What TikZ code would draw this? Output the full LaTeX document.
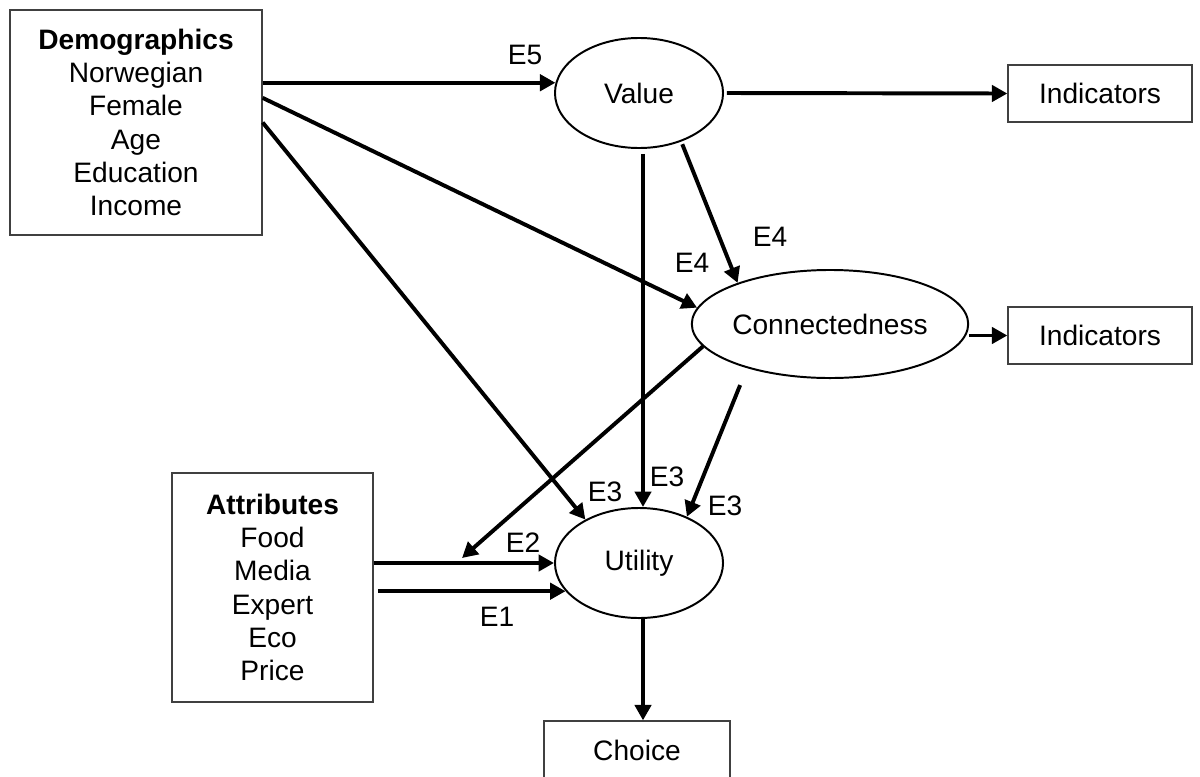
\documentclass[tikz,border=0pt]{standalone}
\usepackage{fontspec}
\setmainfont{Liberation Sans}
\usetikzlibrary{shapes.geometric, arrows.meta}

\begin{document}
\begin{tikzpicture}[x=0.025cm, y=-0.025cm,
    every node/.style={font=\fontsize{20}{23.6}\selectfont, inner sep=0pt},
    latent/.style={ellipse, draw, line width=1.4pt},
    obsbox/.style={rectangle, draw=black!75, line width=0.9pt, align=center},
    arr/.style={-{Triangle[length=11pt, width=11.5pt]}, line width=2.8pt}]
    \useasboundingbox (0,0) rectangle (1200,776);

    % 方框
    \node[obsbox, minimum width=6.3cm, minimum height=5.625cm] (demo) at (136,122.5)
        {\textbf{Demographics}\\Norwegian\\Female\\Age\\Education\\Income};
    \node[obsbox, minimum width=5.025cm, minimum height=5.725cm] (attr) at (272.5,587.5)
        {\textbf{Attributes}\\Food\\Media\\Expert\\Eco\\Price};
    \node[obsbox, minimum width=4.6cm, minimum height=1.425cm] (ind1) at (1100,93.5) {Indicators};
    \node[obsbox, minimum width=4.6cm, minimum height=1.425cm] (ind2) at (1100,335.5) {Indicators};
    \node[obsbox, minimum width=4.65cm, minimum height=1.45cm] (choice) at (637,750) {Choice};

    % 椭圆
    \node[latent, minimum width=4.2cm, minimum height=2.75cm] (value) at (639,93) {Value};
    \node[latent, minimum width=6.75cm, minimum height=2.7cm] (conn) at (830,324) {Connectedness};
    \node[latent, minimum width=4.2cm, minimum height=2.75cm] (util) at (639,563) {Utility};
    \coordinate (e2mid) at (462,558);

    % 箭头
    \draw[arr] (demo.east |- value.173) -- (value.173);
    \draw[arr, shorten <=2pt] (value.east) -- (ind1.west);
    \draw[arr] (demo.11) -- (conn.173);
    \draw[arr] (demo.east) -- (util.141);
    \draw[arr, shorten <=3.5pt] ([xshift=0.1cm]value.south) -- ([xshift=0.1cm]util.north);
    \draw[arr, shorten <=2pt] (value.-49) -- (conn.156);
    \draw[arr] (conn.east |- ind2.west) -- (ind2.west);
    \draw[arr] (conn.190) -- (e2mid);
    \draw[arr, shorten <=13pt] (conn.208) -- (util.44);
    \draw[arr] (attr.east |- util.west) -- (util.west);
    \draw[arr, shorten <=3pt] (attr.east |- util.201) -- (util.201);
    \draw[arr] ([xshift=0.1cm]util.south) -- ([xshift=0.1cm]util.south |- choice.north);

    % 标注误差项
    \node (lE5) at (525,55) {E5};
    \node (lE4a) at (770,237) {E4};
    \node (lE4b) at (692,263) {E4};
    \node (lE3a) at (605,492) {E3};
    \node (lE3b) at (667,477) {E3};
    \node (lE3c) at (725,506) {E3};
    \node (lE2) at (523,543) {E2};
    \node (lE1) at (497,617) {E1};
\end{tikzpicture}
\end{document}
